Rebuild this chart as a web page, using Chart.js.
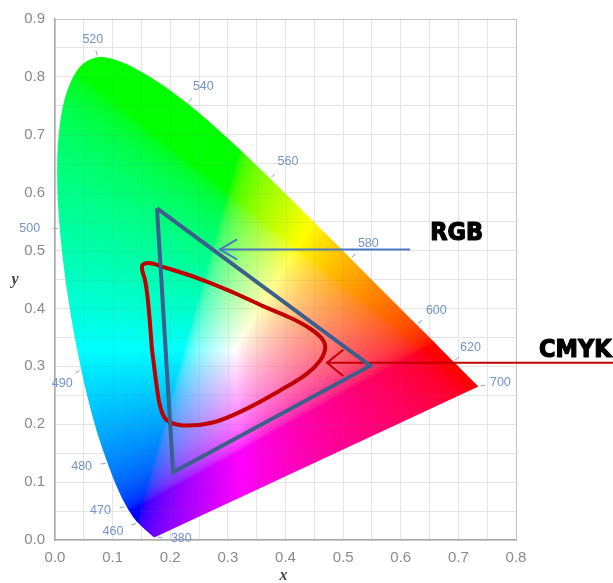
<!DOCTYPE html>
<html>
<head>
<meta charset="utf-8">
<script src="https://cdn.jsdelivr.net/npm/chart.js@4/dist/chart.umd.min.js"></script>
<style>
  html, body { margin: 0; padding: 0; background: #fff; }
  #wrap { width: 613px; height: 583px; }
</style>
</head>
<body>
<div id="wrap"><canvas id="cie"></canvas></div>
<script>
// spectral locus (CIE 1931, nm -> x, y)
const wavelengths = [380, 390, 400, 410, 420, 430, 440, 450, 455, 460, 465, 470, 475, 480, 485, 490, 495, 500, 505, 510, 515, 520, 525, 530, 535, 540, 545, 550, 555, 560, 565, 570, 575, 580, 585, 590, 595, 600, 605, 610, 620, 630, 640, 650, 660, 680, 700];
const locusX = [0.1741, 0.1738, 0.1733, 0.1726, 0.1714, 0.1689, 0.1644, 0.1566, 0.1510, 0.1440, 0.1355, 0.1241, 0.1096, 0.0913, 0.0687, 0.0454, 0.0235, 0.0082, 0.0039, 0.0139, 0.0389, 0.0743, 0.1142, 0.1547, 0.1929, 0.2296, 0.2658, 0.3016, 0.3373, 0.3731, 0.4087, 0.4441, 0.4788, 0.5125, 0.5448, 0.5752, 0.6029, 0.6270, 0.6482, 0.6658, 0.6915, 0.7079, 0.7190, 0.7260, 0.7300, 0.7334, 0.7347];
const locusY = [0.0050, 0.0049, 0.0048, 0.0048, 0.0051, 0.0069, 0.0109, 0.0177, 0.0227, 0.0297, 0.0399, 0.0578, 0.0868, 0.1327, 0.2007, 0.2950, 0.4127, 0.5384, 0.6548, 0.7502, 0.8120, 0.8338, 0.8262, 0.8059, 0.7816, 0.7543, 0.7243, 0.6923, 0.6589, 0.6245, 0.5896, 0.5547, 0.5202, 0.4866, 0.4544, 0.4242, 0.3965, 0.3725, 0.3514, 0.3340, 0.3083, 0.2920, 0.2809, 0.2740, 0.2700, 0.2666, 0.2653];
const labeledWavelengths = [380, 460, 470, 480, 490, 500, 520, 540, 560, 580, 600, 620, 700];

// RGB gamut triangle
const rgbX = [0.177, 0.547, 0.205, 0.177];
const rgbY = [0.573, 0.301, 0.117, 0.573];

// CMYK gamut (closed curve)
const cmykX = [0.168, 0.164, 0.160, 0.156, 0.151, 0.153, 0.166, 0.190, 0.246, 0.304, 0.361, 0.408, 0.443, 0.463, 0.469, 0.460, 0.437, 0.390, 0.333, 0.274, 0.222, 0.194, 0.183, 0.177, 0.172, 0.168];
const cmykY = [0.332, 0.384, 0.425, 0.450, 0.468, 0.476, 0.478, 0.471, 0.453, 0.430, 0.404, 0.384, 0.365, 0.348, 0.332, 0.310, 0.287, 0.258, 0.227, 0.203, 0.198, 0.207, 0.229, 0.262, 0.300, 0.332];

// arrows pointing at the gamuts: tip, tail, label anchor
const arrowNames = ['RGB', 'CMYK'];
const arrowTipX = [0.286, 0.472];
const arrowTipY = [0.502, 0.306];
const arrowTailX = [0.616, 0.97];
const arrowLabelX = [0.651, 0.840];
const arrowLabelY = [0.530, 0.327];

// pixel offsets of the wavelength labels from the locus
const wlOffsets = {
  380: [26, 1], 460: [-25, 9], 470: [-26, 4], 480: [-26, 3], 490: [-19, 14],
  500: [-30, 0], 520: [-5, -18], 540: [16, -17], 560: [18, -17], 580: [18, -15],
  600: [20, -14], 620: [17, -14], 700: [22, -4]
};

function toPts(xs, ys) {
  return xs.map((v, i) => ({ x: v, y: ys[i] }));
}

function gammaEnc(c) {
  return c <= 0.0031308 ? 12.92 * c : 1.055 * Math.pow(c, 1 / 2.4) - 0.055;
}

function xyToRgb(x, y) {
  if (y <= 0.0005) return [80, 0, 160];
  const X = x / y, Y = 1, Z = (1 - x - y) / y;
  let r = 3.2406 * X - 1.5372 * Y - 0.4986 * Z;
  let g = -0.9689 * X + 1.8758 * Y + 0.0415 * Z;
  let b = 0.0557 * X - 0.2040 * Y + 1.0570 * Z;
  r = Math.max(r, 0); g = Math.max(g, 0); b = Math.max(b, 0);
  const m = Math.max(r, g, b) || 1;
  return [gammaEnc(r / m) * 255, gammaEnc(g / m) * 255, gammaEnc(b / m) * 255];
}

// smooth closed path through the locus points (catmull-rom), purple line straight
function locusPath(ctx, pts) {
  const n = pts.length;
  const P = i => pts[Math.max(0, Math.min(n - 1, i))];
  ctx.beginPath();
  ctx.moveTo(pts[0].x, pts[0].y);
  for (let i = 0; i < n - 1; i++) {
    const p0 = P(i - 1), p1 = P(i), p2 = P(i + 1), p3 = P(i + 2);
    ctx.bezierCurveTo(
      p1.x + (p2.x - p0.x) / 6, p1.y + (p2.y - p0.y) / 6,
      p2.x - (p3.x - p1.x) / 6, p2.y - (p3.y - p1.y) / 6,
      p2.x, p2.y
    );
  }
  ctx.closePath();
}

const spectrumFill = {
  id: 'spectrumFill',
  beforeDatasetsDraw(chart) {
    const { ctx, chartArea: a, scales: { x, y } } = chart;
    const pts = chart.getDatasetMeta(0).data;
    const w = Math.round(a.right - a.left), h = Math.round(a.bottom - a.top);
    const off = document.createElement('canvas');
    off.width = w; off.height = h;
    const octx = off.getContext('2d');
    const img = octx.createImageData(w, h);
    for (let j = 0; j < h; j++) {
      const cy = y.getValueForPixel(a.top + j + 0.5);
      for (let i = 0; i < w; i++) {
        const cx = x.getValueForPixel(a.left + i + 0.5);
        const c = xyToRgb(cx, cy);
        const k = (j * w + i) * 4;
        img.data[k] = c[0]; img.data[k + 1] = c[1]; img.data[k + 2] = c[2]; img.data[k + 3] = 255;
      }
    }
    octx.putImageData(img, 0, 0);

    ctx.save();
    locusPath(ctx, pts);
    ctx.clip();
    ctx.drawImage(off, a.left, a.top);
    // faint grid showing through the colours
    ctx.strokeStyle = 'rgba(120,120,120,0.10)';
    ctx.lineWidth = 1;
    x.ticks.forEach(t => {
      const px = Math.round(x.getPixelForValue(t.value)) + 0.5;
      ctx.beginPath(); ctx.moveTo(px, a.top); ctx.lineTo(px, a.bottom); ctx.stroke();
    });
    y.ticks.forEach(t => {
      const py = Math.round(y.getPixelForValue(t.value)) + 0.5;
      ctx.beginPath(); ctx.moveTo(a.left, py); ctx.lineTo(a.right, py); ctx.stroke();
    });
    ctx.restore();
  },
  afterDatasetsDraw(chart) {
    const { ctx } = chart;
    const pts = chart.getDatasetMeta(0).data;
    // wavelength labels
    ctx.save();
    ctx.font = '12.5px "Liberation Sans", Arial, sans-serif';
    ctx.fillStyle = '#7393c8';
    ctx.strokeStyle = '#8aa3cf';
    ctx.lineWidth = 1;
    ctx.textAlign = 'center';
    ctx.textBaseline = 'middle';
    labeledWavelengths.forEach(wl => {
      const p = pts[wavelengths.indexOf(wl)];
      const [dx, dy] = wlOffsets[wl];
      const len = Math.hypot(dx, dy);
      const ux = dx / len, uy = dy / len;
      ctx.beginPath();
      ctx.moveTo(p.x + ux * 2, p.y + uy * 2);
      ctx.lineTo(p.x + ux * 7, p.y + uy * 7);
      ctx.stroke();
      ctx.fillText(String(wl), p.x + dx, p.y + dy);
    });
    ctx.restore();

    // arrow heads
    const heads = [{ ds: 3, len: 20, ang: 0.53, color: '#4a76c0' }, { ds: 4, len: 21, ang: 0.68, color: '#c00000' }];
    heads.forEach(hd => {
      const m = chart.getDatasetMeta(hd.ds).data;
      const tip = m[0], tail = m[1];
      const a0 = Math.atan2(tail.y - tip.y, tail.x - tip.x);
      ctx.save();
      ctx.strokeStyle = hd.color;
      ctx.lineWidth = 2;
      ctx.beginPath();
      ctx.moveTo(tip.x + Math.cos(a0 - hd.ang) * hd.len, tip.y + Math.sin(a0 - hd.ang) * hd.len);
      ctx.lineTo(tip.x, tip.y);
      ctx.lineTo(tip.x + Math.cos(a0 + hd.ang) * hd.len, tip.y + Math.sin(a0 + hd.ang) * hd.len);
      ctx.stroke();
      ctx.restore();
    });
  },
  afterDraw(chart) {
    const { ctx, chartArea: a, scales: { x, y } } = chart;
    ctx.save();
    // arrow labels
    ctx.font = 'bold 25px "DejaVu Sans Condensed", "DejaVu Sans", sans-serif';
    ctx.fillStyle = '#000';
    ctx.strokeStyle = '#000';
    ctx.lineWidth = 1.2;
    ctx.lineJoin = 'round';
    ctx.textAlign = 'left';
    ctx.textBaseline = 'middle';
    arrowNames.forEach((n, i) => {
      const px = x.getPixelForValue(arrowLabelX[i]), py = y.getPixelForValue(arrowLabelY[i]);
      ctx.fillText(n, px, py);
      ctx.strokeText(n, px, py);
    });
    // axis titles
    ctx.font = 'italic bold 16px "Liberation Serif", serif';
    ctx.fillStyle = '#444';
    ctx.textAlign = 'center';
    ctx.fillText('y', a.left - 40, (a.top + a.bottom) / 2);
    ctx.fillText('x', (a.left + a.right) / 2 - 2, a.bottom + 36);
    ctx.restore();
  }
};

const tickFmt = v => {
  const k = Math.round(v * 100);
  return k % 10 === 0 ? (k / 100).toFixed(1) : '';
};

new Chart(document.getElementById('cie'), {
  type: 'scatter',
  data: {
    datasets: [
      {
        label: 'spectral locus',
        data: toPts(locusX, locusY),
        showLine: false,
        pointRadius: 0
      },
      {
        label: 'RGB',
        data: toPts(rgbX, rgbY),
        showLine: true,
        borderColor: '#3e5f8b',
        borderWidth: 4,
        borderJoinStyle: 'miter',
        pointRadius: 0,
        tension: 0
      },
      {
        label: 'CMYK',
        data: toPts(cmykX, cmykY),
        showLine: true,
        borderColor: '#c00000',
        borderWidth: 4,
        pointRadius: 0,
        tension: 0.4
      },
      {
        label: 'RGB arrow',
        data: [{ x: arrowTipX[0], y: arrowTipY[0] }, { x: arrowTailX[0], y: arrowTipY[0] }],
        showLine: true,
        borderColor: '#4a76c0',
        borderWidth: 2,
        pointRadius: 0,
        clip: false
      },
      {
        label: 'CMYK arrow',
        data: [{ x: arrowTipX[1], y: arrowTipY[1] }, { x: arrowTailX[1], y: arrowTipY[1] }],
        showLine: true,
        borderColor: '#c00000',
        borderWidth: 2,
        pointRadius: 0,
        clip: false
      }
    ]
  },
  options: {
    responsive: true,
    maintainAspectRatio: false,
    animation: false,
    events: [],
    layout: { padding: { top: 17, right: 97, left: 0, bottom: 0 } },
    plugins: {
      legend: { display: false },
      tooltip: { enabled: false }
    },
    scales: {
      x: {
        type: 'linear',
        min: 0,
        max: 0.8,
        afterFit: s => { s.height = 43; },
        afterBuildTicks: s => { s.ticks = []; for (let k = 0; k <= 16; k++) s.ticks.push({ value: k * 0.05 }); },
        ticks: {
          autoSkip: false,
          maxRotation: 0,
          padding: 9,
          color: '#8a8a8a',
          font: { family: '"Liberation Sans", Arial, sans-serif', size: 15 },
          callback: tickFmt
        },
        grid: {
          drawTicks: false,
          color: c => (c.tick && Math.abs(c.tick.value - 0.8) < 1e-6) ? '#c4c4c4' : '#e4e4e4'
        },
        border: { color: '#a8a8a8', width: 1.5 }
      },
      y: {
        type: 'linear',
        min: 0,
        max: 0.9,
        afterFit: s => { s.width = 55; },
        afterBuildTicks: s => { s.ticks = []; for (let k = 0; k <= 18; k++) s.ticks.push({ value: k * 0.05 }); },
        ticks: {
          autoSkip: false,
          padding: 10,
          color: '#8a8a8a',
          font: { family: '"Liberation Sans", Arial, sans-serif', size: 15 },
          callback: tickFmt
        },
        grid: {
          drawTicks: false,
          color: c => (c.tick && Math.abs(c.tick.value - 0.9) < 1e-6) ? '#c4c4c4' : '#e4e4e4'
        },
        border: { color: '#a8a8a8', width: 1.5 }
      }
    }
  },
  plugins: [spectrumFill]
});
</script>
</body>
</html>
